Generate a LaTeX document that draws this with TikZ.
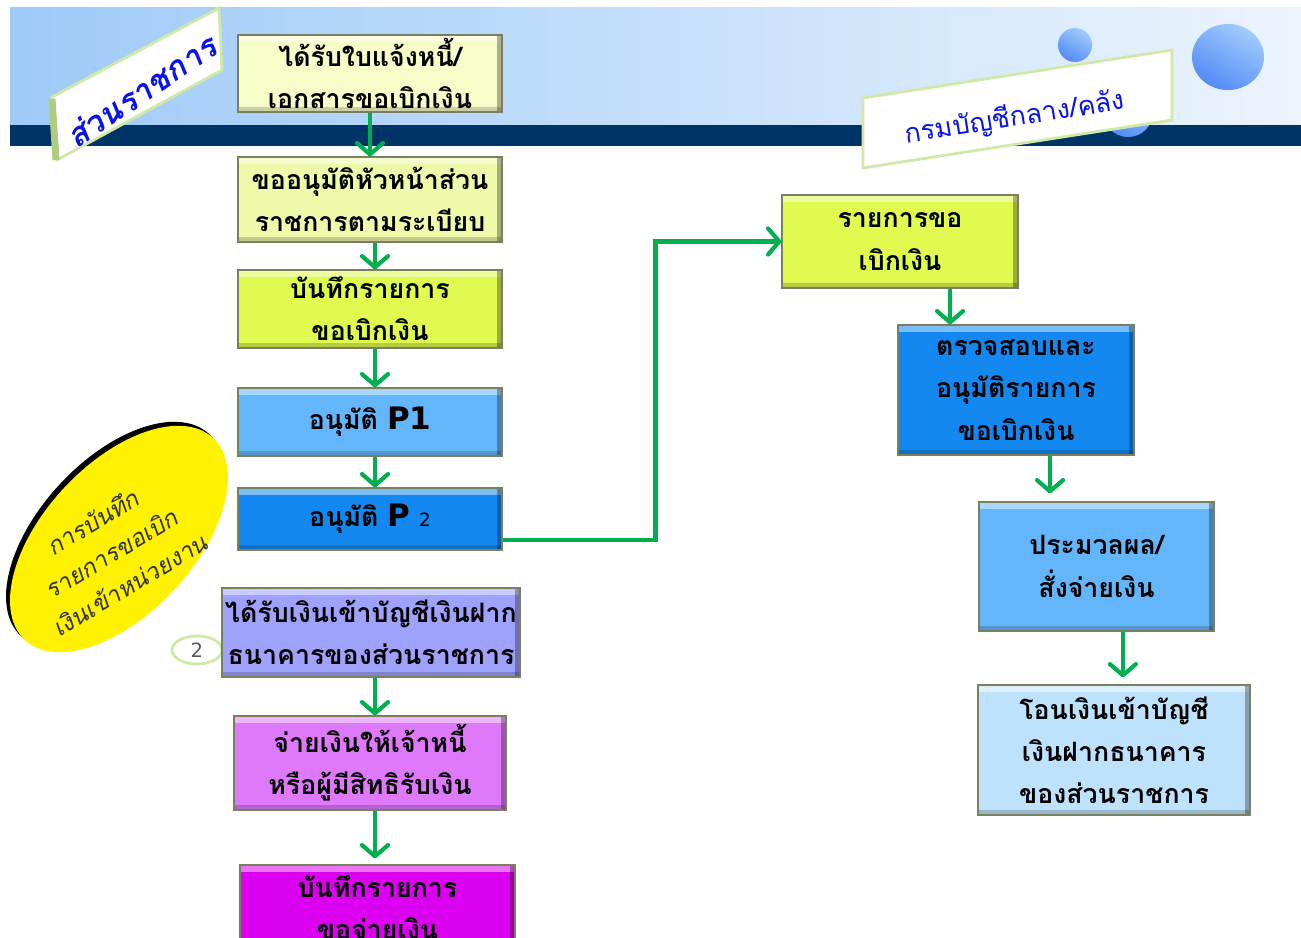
\documentclass[tikz,border=0pt]{standalone}
\usepackage{fontspec}
\newfontfamily\thaifont[Script=Thai]{Loma}
\newfontfamily\thaislant[Script=Thai,FakeSlant=0.2]{Loma}
\newfontfamily\latinfont{DejaVu Sans}
\usetikzlibrary{arrows.meta,shapes.geometric}

\definecolor{bannerleft}{RGB}{158,202,248}
\definecolor{bannerright}{RGB}{236,244,253}
\definecolor{navyband}{RGB}{0,51,102}
\definecolor{bubblelight}{RGB}{160,204,252}
\definecolor{bubbledark}{RGB}{84,138,246}
\definecolor{labelgreen}{RGB}{208,232,168}
\definecolor{labelside}{RGB}{176,204,128}
\definecolor{labelblue}{RGB}{10,20,230}
\definecolor{edgeolive}{RGB}{120,128,96}
\definecolor{arrowgreen}{RGB}{0,176,80}
\definecolor{paleyellow}{RGB}{248,252,200}
\definecolor{lightlime}{RGB}{238,250,170}
\definecolor{lime}{RGB}{224,250,80}
\definecolor{skyblue}{RGB}{100,182,250}
\definecolor{deepblue}{RGB}{18,136,240}
\definecolor{periwinkle}{RGB}{158,162,250}
\definecolor{orchid}{RGB}{222,122,250}
\definecolor{magentabox}{RGB}{220,0,240}
\definecolor{iceblue}{RGB}{190,226,252}

\begin{document}
\begin{tikzpicture}[x=0.025cm, y=-0.025cm]
\tikzstyle{stage} = [rectangle, draw=edgeolive, line width=0.8pt, align=center, inner sep=0pt,
  font=\thaifont\bfseries\fontsize{19}{30}\selectfont,
  path picture={
    \fill[white, opacity=0.45] (path picture bounding box.north west) rectangle ([yshift=-1.8mm]path picture bounding box.north east);
    \fill[black, opacity=0.3] (path picture bounding box.south east) rectangle ([xshift=-1.2mm]path picture bounding box.north east);
    \fill[black, opacity=0.18] (path picture bounding box.south west) rectangle ([yshift=1.2mm]path picture bounding box.south east);
  }]
\tikzstyle{tag} = [text=labelblue, font=\thaifont\fontsize{19}{24}\selectfont]
\tikzstyle{arrow} = [-{Straight Barb[length=2.8mm,width=6.5mm,round]}, draw=arrowgreen, line width=3pt]

\useasboundingbox (0,0) rectangle (1301,938);

% banner
\shade[left color=bannerleft, right color=bannerright] (10,8) rectangle (1301,125);
\fill[navyband] (10,125) rectangle (1301,146);
\shade[top color=bubblelight, bottom color=bubbledark, shading angle=-30] (1075,45) circle (4.25mm);
\shade[top color=bubblelight, bottom color=bubbledark, shading angle=-30] (1228,57) ellipse (9mm and 8.25mm);
\shade[top color=bubblelight, bottom color=bubbledark, shading angle=-30] (1128,112) circle (6.25mm);

% tags
\filldraw[fill=white, draw=labelgreen, line width=2pt] (52,97) -- (219,8) -- (222,70) -- (57,160) -- cycle;
\draw[labelside, line width=5pt] (52,99) -- (56,160);
\node (GovUnit) [tag, font=\thaislant\bfseries\fontsize{23}{26}\selectfont, rotate=34] at (141,91) {ส่วนราชการ};
\filldraw[fill=white, draw=labelgreen, line width=2pt] (863,98) -- (1172,50) -- (1172,120) -- (863,168) -- cycle;
\node (CentralDept) [tag, rotate=9] at (1015,118) {กรมบัญชีกลาง/คลัง};

% ellipse note
\fill[black, rotate around={47:(115,535)}] (115,535) ellipse (34.5mm and 18.75mm);
\fill[yellow, rotate around={47:(119,539)}] (119,539) ellipse (34.5mm and 18.75mm);
\node (RecordNote) [rotate=31, align=center, text=black!80, font=\thaislant\fontsize{17}{26}\selectfont] at (111,553) {การบันทึก\\รายการขอเบิก\\เงินเข้าหน่วยงาน};
\node (StepTwo) [ellipse, draw=labelgreen, line width=2pt, fill=white, minimum width=12.5mm, minimum height=7mm, inner sep=0pt, text=black!65, font=\latinfont\fontsize{14}{15}\selectfont] at (197,650) {2};

% left column
\node (ReceiveInvoice) [stage, fill=paleyellow, minimum width=66mm, minimum height=19.25mm] at (370,73.5) {ได้รับใบแจ้งหนี้/\\เอกสารขอเบิกเงิน};
\node (RequestApproval) [stage, fill=lightlime, minimum width=66mm, minimum height=21.25mm] at (370,199.5) {ขออนุมัติหัวหน้าส่วน\\ราชการตามระเบียบ};
\node (RecordRequest) [stage, fill=lime, minimum width=66mm, minimum height=19.5mm] at (370,309) {บันทึกรายการ\\ขอเบิกเงิน};
\node (ApproveP1) [stage, fill=skyblue, minimum width=66mm, minimum height=17mm] at (370,422) {อนุมัติ {\latinfont\bfseries\fontsize{22}{24}\selectfont P1}};
\node (ApproveP2) [stage, fill=deepblue, minimum width=66mm, minimum height=15.5mm] at (370,519) {อนุมัติ {\latinfont\bfseries\fontsize{22}{24}\selectfont P} {\latinfont\mdseries\fontsize{13}{14}\selectfont 2}};
\node (BankReceived) [stage, fill=periwinkle, minimum width=74.5mm, minimum height=22.25mm] at (371,632.5) {ได้รับเงินเข้าบัญชีเงินฝาก\\ธนาคารของส่วนราชการ};
\node (PayCreditor) [stage, fill=orchid, minimum width=68mm, minimum height=23.5mm] at (370,763) {จ่ายเงินให้เจ้าหนี้\\หรือผู้มีสิทธิรับเงิน};
\node (RecordPayment) [stage, fill=magentabox, minimum width=68.75mm, minimum height=21.25mm] at (377.5,907.5) {บันทึกรายการ\\ขอจ่ายเงิน};

% right column
\node (RequestList) [stage, fill=lime, minimum width=59mm, minimum height=23.25mm] at (900,241.5) {รายการขอ\\เบิกเงิน};
\node (CheckApprove) [stage, fill=deepblue, minimum width=59mm, minimum height=32.5mm] at (1016,390) {ตรวจสอบและ\\อนุมัติรายการ\\ขอเบิกเงิน};
\node (ProcessPay) [stage, fill=skyblue, minimum width=58.75mm, minimum height=32.25mm] at (1096.5,566.5) {ประมวลผล/\\สั่งจ่ายเงิน};
\node (TransferFunds) [stage, fill=iceblue, minimum width=68mm, minimum height=32.5mm] at (1114,750) {โอนเงินเข้าบัญชี\\เงินฝากธนาคาร\\ของส่วนราชการ};

\draw [arrow] (ReceiveInvoice.south) -- (RequestApproval.north);
\draw [arrow] ([xshift=1.25mm]RequestApproval.south) -- ([xshift=1.25mm]RecordRequest.north);
\draw [arrow] ([xshift=1.25mm]RecordRequest.south) -- ([xshift=1.25mm]ApproveP1.north);
\draw [arrow] ([xshift=1.25mm]ApproveP1.south) -- ([xshift=1.25mm]ApproveP2.north);
\draw [arrow] ([yshift=-5.25mm]ApproveP2.east) -- ++(153,0) |- (RequestList.west);
\draw [arrow] ([xshift=1mm]BankReceived.south) -- ([xshift=1mm]BankReceived.south |- PayCreditor.north);
\draw [arrow, shorten >=1.5mm] ([xshift=1.25mm]PayCreditor.south) -- ([xshift=1.25mm]PayCreditor.south |- RecordPayment.north);
\draw [arrow] ([xshift=12.5mm]RequestList.south) -- ([xshift=12.5mm]RequestList.south |- CheckApprove.north);
\draw [arrow, shorten >=2mm] ([xshift=8.5mm]CheckApprove.south) -- ([xshift=8.5mm]CheckApprove.south |- ProcessPay.north);
\draw [arrow, shorten >=1.75mm] ([xshift=6.6mm]ProcessPay.south) -- ([xshift=6.6mm]ProcessPay.south |- TransferFunds.north);

\end{tikzpicture}
\end{document}
